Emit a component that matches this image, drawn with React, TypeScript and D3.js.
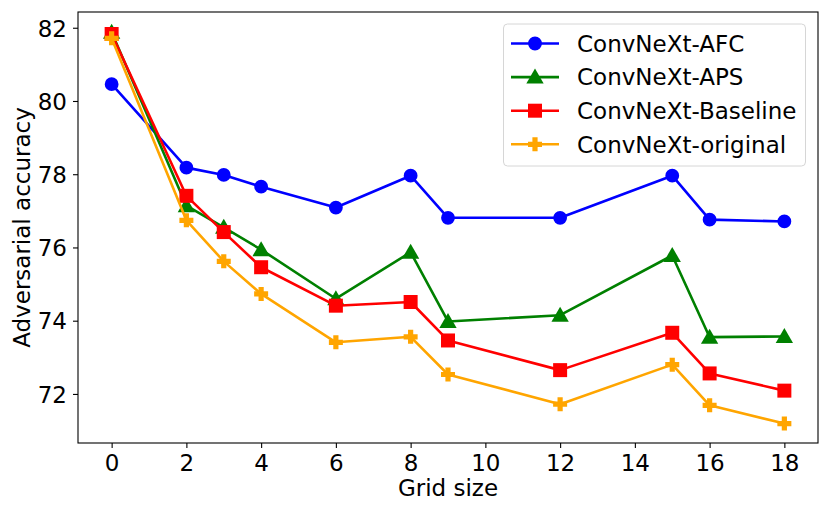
import React, { useEffect, useRef } from "react";
import * as d3 from "d3";

// grid sizes on the x axis
const gridSizes = [0, 2, 3, 4, 6, 8, 9, 12, 15, 16, 18];

const afcValues = [80.46, 78.18, 77.98, 77.66, 77.09, 77.96, 76.81, 76.81, 77.96, 76.76, 76.71];
const apsValues = [81.88, 77.14, 76.55, 75.94, 74.6, 75.87, 73.98, 74.15, 75.78, 73.55, 73.57];
const baselineValues = [81.83, 77.41, 76.42, 75.46, 74.41, 74.51, 73.46, 72.65, 73.67, 72.56, 72.09];
const originalValues = [81.71, 76.74, 75.62, 74.73, 73.41, 73.56, 72.53, 71.72, 72.8, 71.69, 71.19];

const seriesNames = ["ConvNeXt-AFC", "ConvNeXt-APS", "ConvNeXt-Baseline", "ConvNeXt-original"];
const seriesColors = ["#0000ff", "#008000", "#ff0000", "#ffa500"];
const seriesMarkers = ["circle", "triangle", "square", "plus"];

const xTicks = [0, 2, 4, 6, 8, 10, 12, 14, 16, 18];
const yTicks = [72, 74, 76, 78, 80, 82];

const FONT = "'DejaVu Sans', sans-serif";
const FS = 23;

const App: React.FC = () => {
  const ref = useRef<SVGSVGElement | null>(null);

  useEffect(() => {
    const svg = d3.select(ref.current);
    svg.selectAll("*").remove();

    const width = 830,
      height = 515;
    const margin = { top: 12, right: 12, bottom: 72, left: 78 };

    const allValues = [afcValues, apsValues, baselineValues, originalValues];

    const x = d3
      .scaleLinear()
      .domain([-0.9, 18.9])
      .range([margin.left, width - margin.right]);

    const y = d3
      .scaleLinear()
      .domain([70.66, 82.43])
      .range([height - margin.bottom, margin.top]);

    // axes
    const xAxis = svg
      .append("g")
      .attr("transform", `translate(0,${height - margin.bottom})`)
      .call(d3.axisBottom(x).tickValues(xTicks).tickSize(5).tickPadding(6).tickFormat(d3.format("d")));
    const yAxis = svg
      .append("g")
      .attr("transform", `translate(${margin.left},0)`)
      .call(d3.axisLeft(y).tickValues(yTicks).tickSize(5).tickPadding(6).tickFormat(d3.format("d")));

    [xAxis, yAxis].forEach((g) => {
      g.select(".domain").remove();
      g.selectAll("line").attr("stroke", "#000").attr("stroke-width", 1.1);
      g.selectAll("text").attr("font-family", FONT).attr("font-size", FS).attr("fill", "#000");
    });
    yAxis.selectAll("text").attr("dy", "0.36em");
    xAxis.selectAll("text").attr("dy", "0.74em");

    // frame
    svg
      .append("rect")
      .attr("x", margin.left)
      .attr("y", margin.top)
      .attr("width", width - margin.left - margin.right)
      .attr("height", height - margin.top - margin.bottom)
      .attr("fill", "none")
      .attr("stroke", "#000")
      .attr("stroke-width", 1.1);

    // axis labels
    svg
      .append("text")
      .attr("x", (margin.left + width - margin.right) / 2)
      .attr("y", 496)
      .attr("text-anchor", "middle")
      .attr("font-family", FONT)
      .attr("font-size", FS)
      .text("Grid size");
    svg
      .append("text")
      .attr("transform", `translate(30,${(margin.top + height - margin.bottom) / 2}) rotate(-90)`)
      .attr("text-anchor", "middle")
      .attr("font-family", FONT)
      .attr("font-size", FS)
      .text("Adversarial accuracy");

    const symbolFor = (kind: string) => {
      if (kind === "circle") return d3.symbol(d3.symbolCircle, 150)();
      if (kind === "triangle") return d3.symbol(d3.symbolTriangle, 130)();
      if (kind === "square") return d3.symbol(d3.symbolSquare, 196)();
      return "M-2.6,-7H2.6V-2.6H7V2.6H2.6V7H-2.6V2.6H-7V-2.6H-2.6Z";
    };

    const line = d3
      .line<number>()
      .x((_, i) => x(gridSizes[i]))
      .y((d) => y(d));

    allValues.forEach((vals, si) => {
      const g = svg.append("g");
      g.append("path")
        .attr("d", line(vals) || "")
        .attr("fill", "none")
        .attr("stroke", seriesColors[si])
        .attr("stroke-width", 2.6)
        .attr("stroke-linejoin", "round");
      g.selectAll("path.m")
        .data(vals)
        .enter()
        .append("path")
        .attr("class", "m")
        .attr("d", symbolFor(seriesMarkers[si]))
        .attr("transform", (d, i) => `translate(${x(gridSizes[i])},${y(d) + (seriesMarkers[si] === "triangle" ? 1.5 : 0)})`)
        .attr("fill", seriesColors[si]);
    });

    // legend
    const lg = svg.append("g");
    lg.append("rect")
      .attr("x", 503.5)
      .attr("y", 24)
      .attr("width", 302)
      .attr("height", 142)
      .attr("rx", 4)
      .attr("fill", "#fff")
      .attr("fill-opacity", 0.8)
      .attr("stroke", "#d6d6d6")
      .attr("stroke-width", 1);
    seriesNames.forEach((name, i) => {
      const cy = 43.5 + i * 33.6;
      lg.append("line")
        .attr("x1", 511)
        .attr("x2", 559)
        .attr("y1", cy)
        .attr("y2", cy)
        .attr("stroke", seriesColors[i])
        .attr("stroke-width", 2.6);
      lg.append("path")
        .attr("d", symbolFor(seriesMarkers[i]))
        .attr("transform", `translate(535,${cy + (seriesMarkers[i] === "triangle" ? 1.5 : 0)})`)
        .attr("fill", seriesColors[i]);
      lg.append("text")
        .attr("x", 577)
        .attr("y", cy)
        .attr("dy", "0.36em")
        .attr("font-family", FONT)
        .attr("font-size", FS)
        .text(name);
    });
  }, []);

  return <svg ref={ref} width={830} height={515} style={{ display: "block", margin: -8 }}></svg>;
};

export default App;
